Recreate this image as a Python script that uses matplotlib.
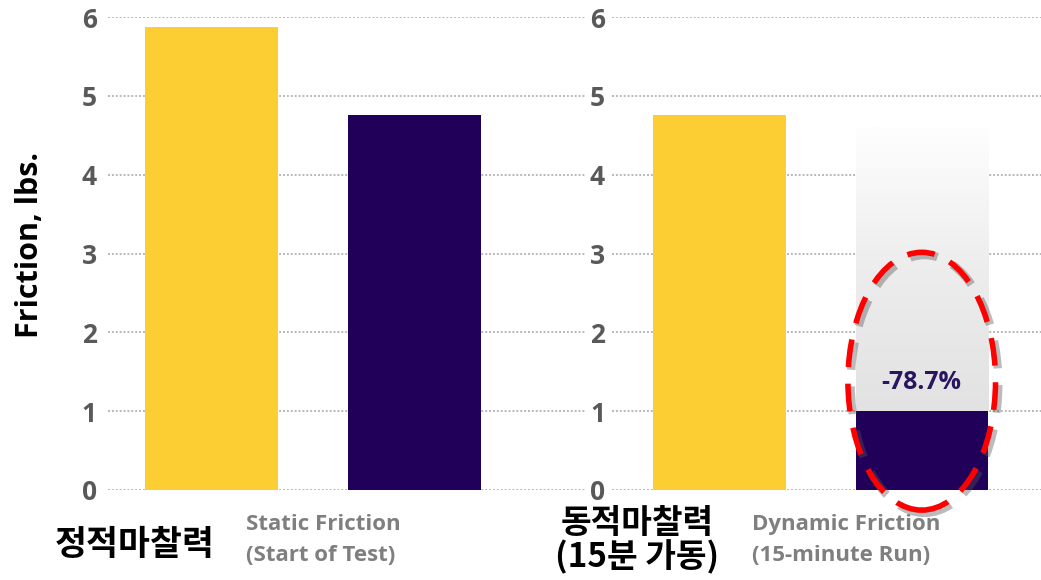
import matplotlib.pyplot as plt
import numpy as np
from matplotlib.patches import Ellipse
from matplotlib.colors import LinearSegmentedColormap
import matplotlib.patheffects as pe

# 마찰력 데이터 (lbs)
static_vals = [5.87, 4.76]       # 정적마찰력: 기준 / 개선
dynamic_vals = [4.76, 1.0]       # 동적마찰력: 기준 / 개선 (15분 가동)
ghost_top = 4.6                  # 감소 전 높이 표시용
reduction_label = '-78.7%'
yticks = [0, 1, 2, 3, 4, 5, 6]

YELLOW = '#FDCD34'
PURPLE = '#21005A'
TICK_COLOR = '#595959'
GRID_COLOR = '#b8b8b8'

W, H = 1041, 580
fig = plt.figure(figsize=(W / 100, H / 100), dpi=100)

def px(x0, x1):
    return x0 / W, (x1 - x0) / W

y0 = (H - 490) / H
hgt = 473 / H

l, w = px(108, 585)
ax1 = fig.add_axes([l, y0, w, hgt])
l, w = px(612, 1041)
ax2 = fig.add_axes([l, y0, w, hgt])

for ax, pad in ((ax1, 8), (ax2, 5)):
    ax.set_ylim(0, 6)
    ax.set_yticks(yticks)
    ax.set_xticks([])
    for s in ax.spines.values():
        s.set_visible(False)
    ax.tick_params(axis='y', length=0, pad=pad, labelsize=19, labelcolor=TICK_COLOR)
    for t in ax.get_yticklabels():
        t.set_fontweight('bold')
        t.set_fontfamily('Open Sans')
    ax.yaxis.grid(True, color=GRID_COLOR, linestyle=(0, (1, 1)), linewidth=1.4)
    ax.set_axisbelow(True)

ax1.set_xlim(-0.51, 1.84)
ax2.set_xlim(-0.532, 1.59)

bw = 0.655
ax1.bar([0, 1], static_vals, width=bw, color=[YELLOW, PURPLE], zorder=3)
ax2.bar([0, 1], dynamic_vals, width=bw, color=[YELLOW, PURPLE], zorder=3)

# 감소량 표시: 회색 그라데이션
grad = np.linspace(0, 1, 256).reshape(-1, 1)
cmap = LinearSegmentedColormap.from_list('fade', ['#e2e2e2', '#ededed', '#fefefe'])
ax2.imshow(grad, extent=[1 - bw / 2, 1 + bw / 2, dynamic_vals[1], ghost_top],
           cmap=cmap, origin='lower', aspect='auto', zorder=2)

ax2.text(1, 1.36, reduction_label, ha='center', va='center', fontsize=18,
         fontweight='bold', color='#2a1660', family='Open Sans', zorder=5)

ell = Ellipse((1.0, 1.38), 0.73, 3.27, fill=False, edgecolor='#ff0000',
              linewidth=4, linestyle=(0, (5, 3)), zorder=6, clip_on=False)
ell.set_path_effects([pe.SimpleLineShadow(offset=(2, -2), shadow_color='#555555',
                                          alpha=0.4, linewidth=6),
                      pe.Normal()])
ax2.add_patch(ell)

fig.text(30 / W, 1 - 245 / H, 'Friction, lbs.', rotation=90, ha='center', va='center',
         fontsize=22, fontweight='bold', family='Open Sans')

kr = ['Noto Sans CJK KR', 'DejaVu Sans']
fig.text(135 / W, 1 - 545 / H, '정적마찰력', ha='center', va='center',
         fontsize=25, fontweight='bold', family=kr)
fig.text(637 / W, 1 - 541 / H, '동적마찰력\n(15분 가동)', ha='center', va='center',
         fontsize=24, fontweight='bold', family=kr, linespacing=1.0)

fig.text(246 / W, 1 - 540 / H, 'Static Friction\n(Start of Test)', ha='left', va='center',
         fontsize=16, fontweight='bold', color='#7f7f7f', family='Open Sans', linespacing=1.6)
fig.text(752 / W, 1 - 540 / H, 'Dynamic Friction\n(15-minute Run)', ha='left', va='center',
         fontsize=16, fontweight='bold', color='#7f7f7f', family='Open Sans', linespacing=1.6)

fig.savefig('out.png', dpi=100)
